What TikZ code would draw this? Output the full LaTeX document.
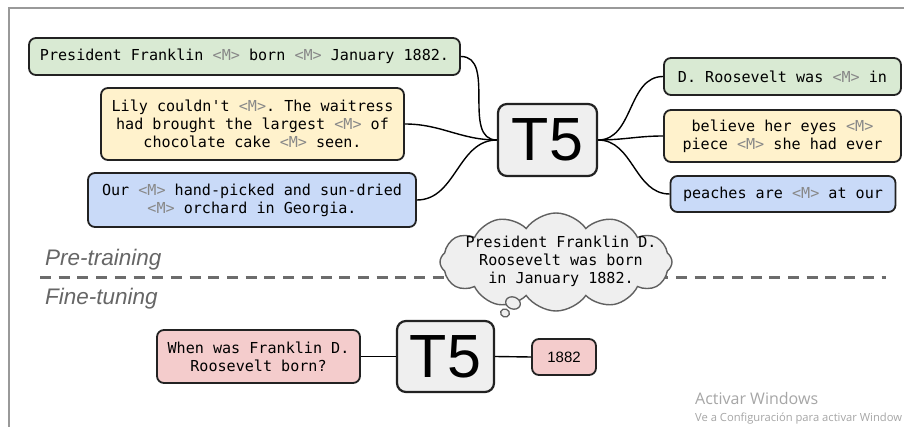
\documentclass[tikz,border=0pt]{standalone}
\usepackage{fontspec}
\setmonofont{DejaVu Sans Mono}
\setsansfont{Liberation Sans}
\newfontfamily\wmfont{Open Sans}
\usetikzlibrary{shapes.symbols,shapes.geometric}
\definecolor{cgreen}{HTML}{D9EAD3}
\definecolor{cyellow}{HTML}{FFF2CC}
\definecolor{cblue}{HTML}{C9DAF8}
\definecolor{cpink}{HTML}{F4CCCC}
\definecolor{cgrayfill}{HTML}{EFEFEF}
\definecolor{cedge}{HTML}{222222}
\definecolor{mgray}{HTML}{888888}
\definecolor{lblgray}{HTML}{666666}
\definecolor{wmgray}{HTML}{A6A6A6}
\newcommand{\mk}{{\color{mgray}<M>}}
\tikzset{
  txtbox/.style={draw=cedge, line width=1.8pt, rounded corners=7pt, inner sep=0pt,
    align=center, font=\ttfamily\fontsize{15.1}{18}\selectfont},
  tfive/.style={draw=cedge, line width=2.2pt, rounded corners=9pt, inner sep=0pt,
    fill=cgrayfill, font=\sffamily\fontsize{61}{61}\selectfont},
  link/.style={draw=black, line width=1.4pt},
  phase/.style={anchor=base west, inner sep=0pt, text=lblgray, font=\sffamily\itshape\fontsize{22.5}{22.5}\selectfont},
}
\begin{document}
\begin{tikzpicture}[x=1pt,y=-1pt]
\useasboundingbox (0,0) rectangle (904,427);
\fill[white] (0,0) rectangle (904,427);
% frame lines
\coordinate (f1) at (9,427);
\coordinate (f2) at (9,8);
\coordinate (f3) at (904,8);
\draw[line width=1.2pt, draw=gray!80] (f1) -- (f2) -- (f3);

% pre-training inputs
\node[txtbox, fill=cgreen, minimum width=431, minimum height=37] (a) at (244.5,56.5)
  {President Franklin \mk{} born \mk{} January 1882.};
\node[txtbox, fill=cyellow, minimum width=303, minimum height=72] (b) at (252.5,124)
  {Lily couldn't \mk. The waitress\\had brought the largest \mk{} of\\chocolate cake \mk{} seen.};
\node[txtbox, fill=cblue, minimum width=328, minimum height=54] (c) at (252,200)
  {Our \mk{} hand-picked and sun-dried\\\mk{} orchard in Georgia.};

\node[tfive, minimum width=99, minimum height=72] (t) at (547.5,140) {T5};

% targets
\node[txtbox, fill=cgreen, minimum width=237, minimum height=37] (d) at (782.5,76.5)
  {D. Roosevelt was \mk{} in};
\node[txtbox, fill=cyellow, minimum width=237, minimum height=52] (e) at (782.5,136)
  {believe her eyes \mk\\piece \mk{} she had ever};
\node[txtbox, fill=cblue, minimum width=225, minimum height=36] (f) at (783,194)
  {peaches are \mk{} at our};

\draw[link] (a.east) to[out=0,in=180] (t.west);
\draw[link] (b.east) to[out=0,in=180] (t.west);
\draw[link] (c.east) to[out=0,in=180] (t.west);
\draw[link] (t.east) to[out=0,in=180] (d.west);
\draw[link] (t.east) to[out=0,in=180] (e.west);
\draw[link] (t.east) to[out=0,in=180] (f.west);

% phase separator
\node[phase] (pre) at (45,266) {Pre-training};
\node[phase] (fine) at (45,305) {Fine-tuning};
\coordinate (dl) at (40,278);
\coordinate (dr) at (886,278);
\draw[draw=gray!85!black, line width=3pt, dash pattern=on 11pt off 7.7pt] (dl) -- (dr);

% thought cloud
\node[cloud, cloud puffs=12, cloud puff arc=110, aspect=2.4, draw=gray!75!black, line width=1.4pt,
  fill=cgrayfill, minimum width=232, minimum height=98, inner sep=0pt] (cl) at (556,262) {};
\node[align=center, inner sep=0pt, font=\ttfamily\fontsize{15.1}{18}\selectfont] (clt) at (561,261)
  {President Franklin D.\\Roosevelt was born\\in January 1882.};
\node[ellipse, draw=gray!75!black, line width=1.3pt, fill=cgrayfill, minimum width=15, minimum height=12, inner sep=0pt, rotate=-20] (bub1) at (513,303) {};
\node[ellipse, draw=gray!75!black, line width=1.3pt, fill=cgrayfill, minimum width=9, minimum height=8, inner sep=0pt, rotate=-20] (bub2) at (505,313) {};

% fine-tuning
\node[txtbox, fill=cpink, minimum width=203, minimum height=53] (q) at (258.5,356.5)
  {When was Franklin D.\\Roosevelt born?};
\node[tfive, minimum width=97, minimum height=71] (tb) at (445.5,356.5) {T5};
\node[txtbox, fill=cpink, minimum width=64, minimum height=36, font=\sffamily\fontsize{15}{18}\selectfont] (ans) at (564,357) {1882};
\draw[link] (q.east) -- (tb.west);
\draw[link] (tb.east) -- (ans.west);

% watermark
\node[anchor=base west, inner sep=0pt, text=wmgray, font=\wmfont\fontsize{16}{16}\selectfont] (wm1) at (695,404) {Activar Windows};
\node[anchor=base west, inner sep=0pt, text=wmgray, font=\wmfont\fontsize{11.2}{12}\selectfont] (wm2) at (695,421) {Ve a Configuración para activar Window};
\end{tikzpicture}
\end{document}
